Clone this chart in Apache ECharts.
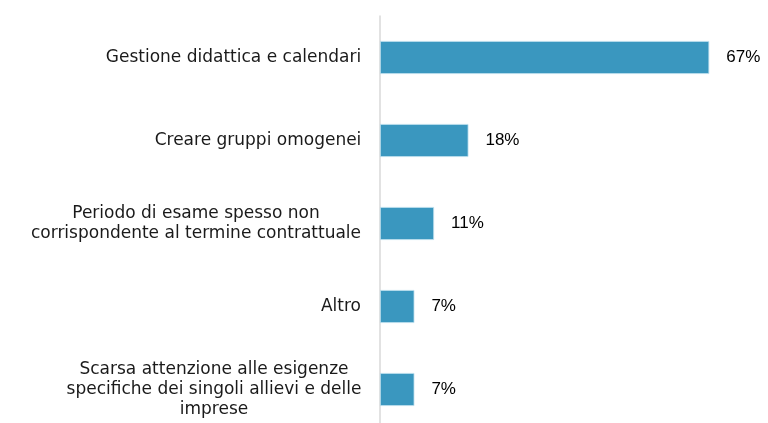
<!DOCTYPE html>
<html><head><meta charset="utf-8">
<script src="https://cdn.jsdelivr.net/npm/echarts@6/dist/echarts.min.js"></script>
<style>html,body{margin:0;padding:0;background:#fff}#c{width:768px;height:423px}</style>
</head><body><div id="c"></div>
<script>
const categories = [
  "Gestione didattica e calendari",
  "Creare gruppi omogenei",
  "Periodo di esame spesso non\ncorrispondente al termine contrattuale",
  "Altro",
  "Scarsa attenzione alle esigenze\nspecifiche dei singoli allievi e delle\nimprese"
];
const values = [67, 18, 11, 7, 7];

const labelFont = '17px "DejaVu Sans"';
const cv = document.createElement('canvas').getContext('2d');
cv.font = labelFont;
const rich = {};
categories.forEach((c, i) => {
  const w = Math.max(...c.split('\n').map(l => cv.measureText(l).width));
  rich['w' + i] = {width: Math.ceil(w) + 1, align: 'center', fontFamily: 'DejaVu Sans', fontSize: 17, color: '#1a1a1a', lineHeight: 20};
});

const chart = echarts.init(document.getElementById('c'));
chart.setOption({
  animation: false,
  grid: {left: 380, right: 44, top: 16, bottom: -8, containLabel: false, outerBoundsMode: 'none'},
  xAxis: {type: 'value', min: 0, max: 70, show: false},
  yAxis: {
    type: 'category', data: categories, inverse: true,
    axisLine: {show: true, lineStyle: {color: '#d9d9d9', width: 1.5}},
    axisTick: {show: false},
    axisLabel: {
      margin: 18, align: 'right',
      formatter: function (v, idx) {
        return v.split('\n').map(l => '{w' + idx + '|' + l + '}').join('\n');
      },
      rich: rich
    }
  },
  series: [{
    type: 'bar', data: values, barWidth: 33,
    itemStyle: {color: '#3a97bf', borderColor: '#bfe0ee', borderWidth: 0.8},
    label: {show: true, position: 'right', distance: 17, formatter: '{c}%',
      fontFamily: 'Liberation Sans', fontSize: 17, color: '#000'}
  }]
});
</script></body></html>
